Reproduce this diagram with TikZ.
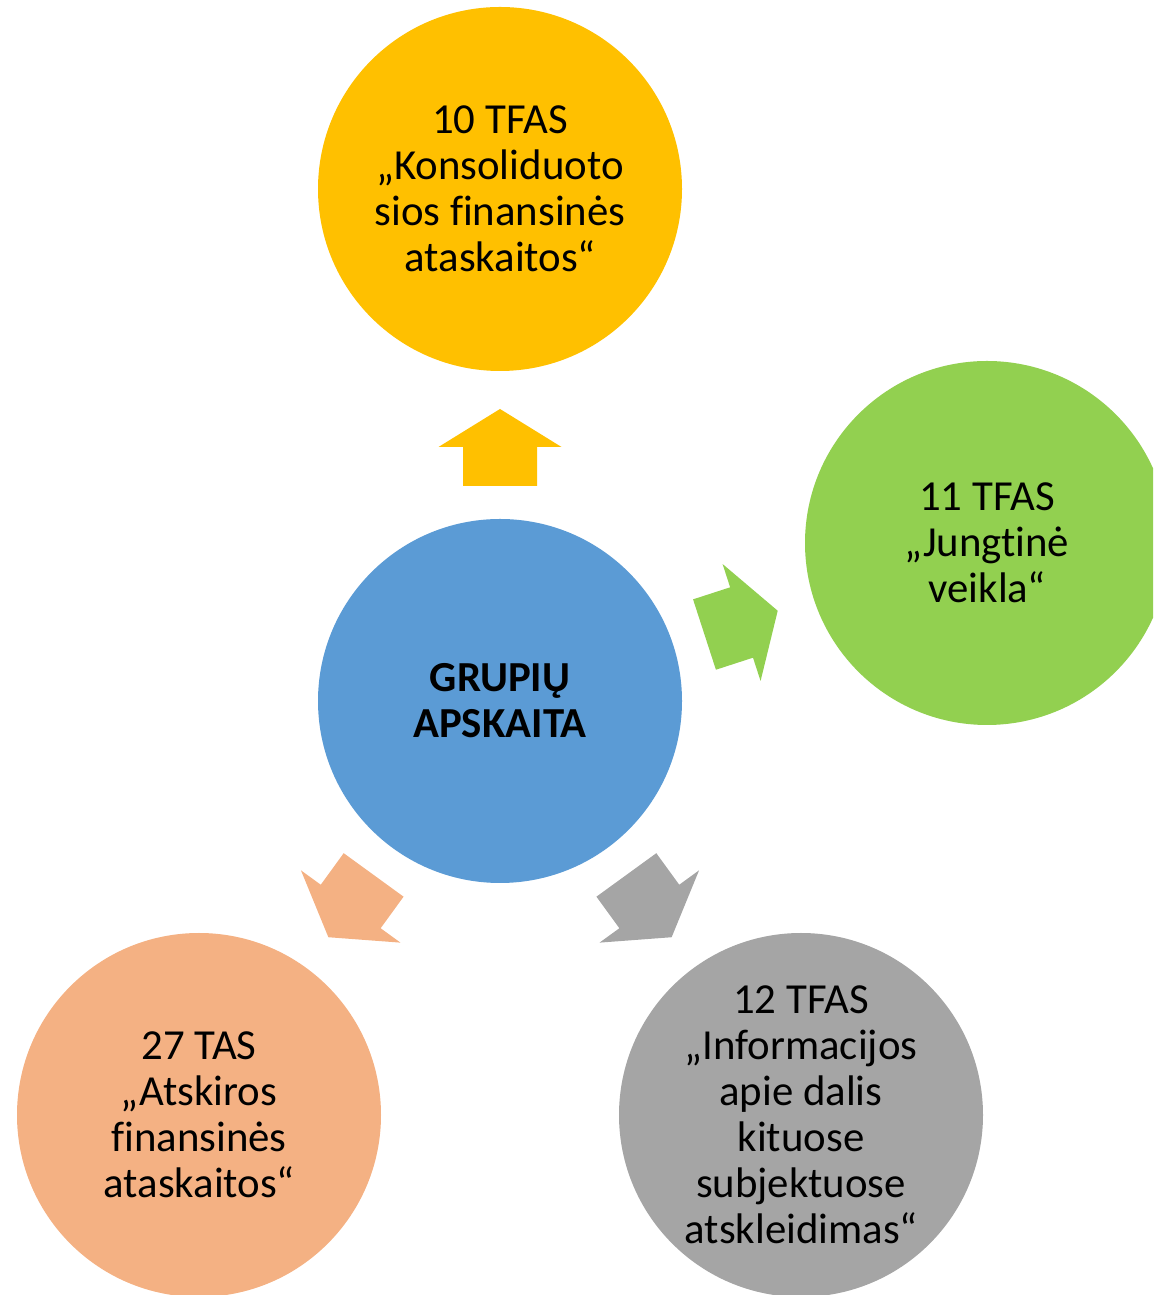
\documentclass[tikz,border=0pt]{standalone}
\usepackage{fontspec}
\setmainfont{Carlito}[Ligatures={NoCommon}]
\definecolor{cyel}{HTML}{FFC000}
\definecolor{cgrn}{HTML}{92D050}
\definecolor{cblu}{HTML}{5B9BD5}
\definecolor{cgry}{HTML}{A5A5A5}
\definecolor{corg}{HTML}{F4B183}
\begin{document}
\begin{tikzpicture}[x=0.5pt,y=0.5pt,
  circ/.style={circle,minimum size=182pt,inner sep=0pt,draw=none},
  lbl/.style={align=center,inner sep=0pt,font=\fontsize{21.4}{23}\selectfont},
  blockarrow/.pic={\fill[#1] (215,-37) -- (254,-37) -- (254,-61.5) -- (292,0) -- (254,61.5) -- (254,37) -- (215,37) -- cycle;}
]
\useasboundingbox (0,0) rectangle (1153,1295);
\clip (0,0) rectangle (1153,1295);
\node[circ,fill=cblu] (hub) at (500,594) {};
\node[circ,fill=cyel] (top) at (500,1106) {};
\node[circ,fill=cgrn] (right) at (987,752) {};
\node[circ,fill=cgry] (botr) at (801,180) {};
\node[circ,fill=corg] (botl) at (199,180) {};
\pic[rotate=90] at (hub.center) {blockarrow=cyel};
\pic[rotate=18] at (hub.center) {blockarrow=cgrn};
\pic[rotate=-54] at (hub.center) {blockarrow=cgry};
\pic[rotate=-126] at (hub.center) {blockarrow=corg};
\node[lbl,font=\fontsize{21.4}{23}\selectfont\bfseries] (thub) at (hub.center) {GRUPIŲ\\APSKAITA};
\node[lbl] (ttop) at (top.center) {10 TFAS\\„Konsoliduoto\\sios finansinės\\ataskaitos“};
\node[lbl] (tright) at (right.center) {11 TFAS\\„Jungtinė\\veikla“};
\node[lbl] (tbotr) at (botr.center) {12 TFAS\\„Informacijos\\apie dalis\\kituose\\subjektuose\\atskleidimas“};
\node[lbl] (tbotl) at (botl.center) {27 TAS\\„Atskiros\\finansinės\\ataskaitos“};
\end{tikzpicture}
\end{document}
